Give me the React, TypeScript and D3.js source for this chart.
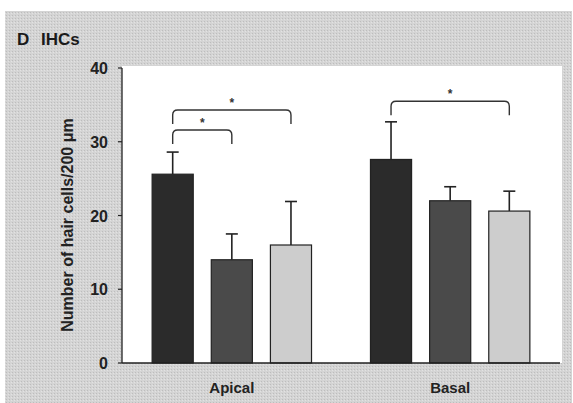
import React from "react";
import * as d3 from "d3";

const groups = ["Apical", "Basal"];
const series = ["s1", "s2", "s3"];
const means = [
  [25.6, 14.0, 16.0],
  [27.6, 22.0, 20.6],
];
const errs = [
  [3.0, 3.5, 5.9],
  [5.1, 1.9, 2.7],
];
const yTicks = [0, 10, 20, 30, 40];
const fills = ["#2b2b2b", "#4a4a4a", "#cdcdcd"];
// brackets: group, from series, to series, level (data units)
const brackets = [
  { g: 0, a: 0, b: 2, y: 34.3 },
  { g: 0, a: 0, b: 1, y: 31.6 },
  { g: 1, a: 0, b: 2, y: 35.5 },
];

export default function App() {
  const W = 573, H = 403;
  const left = 122, right = 560, top = 68, bottom = 363;
  const y = d3.scaleLinear().domain([0, 40]).range([bottom, top]);
  const x0 = d3.scaleBand().domain(groups).range([left, right]).paddingInner(0.27).paddingOuter(0.138);
  const x1 = d3.scaleBand().domain(series).range([0, x0.bandwidth()]).paddingInner(0.305);
  const font = "'Liberation Sans', Arial, sans-serif";
  const bw = x1.bandwidth();
  const cx = (g: number, s: number) => (x0(groups[g]) as number) + (x1(series[s]) as number) + bw / 2;
  const r = 5;
  return (
    <svg width={W} height={H} style={{ position: "absolute", left: 0, top: 0 }}>
      <defs>
        <pattern id="noise" width="3" height="3" patternUnits="userSpaceOnUse">
          <rect width="3" height="3" fill="#d4d4d4" />
          <rect width="1" height="1" fill="#bdbdbd" />
          <rect x="2" y="1" width="1" height="1" fill="#e2e2e2" />
        </pattern>
      </defs>
      <rect x={0} y={0} width={W} height={H} fill="#ffffff" />
      <rect x={5} y={11} width={W - 6} height={H - 11} fill="url(#noise)" />
      <rect x={left} y={66} width={562 - left} height={bottom - 66} fill="#ffffff" />
      <text x={17} y={45} fontFamily={font} fontWeight="bold" fontSize={17} fill="#1a1a1a">D</text>
      <text x={41} y={45} fontFamily={font} fontWeight="bold" fontSize={17} fill="#1a1a1a">IHCs</text>
      {means.map((row, g) =>
        row.map((v, s) => {
          const bx = (x0(groups[g]) as number) + (x1(series[s]) as number);
          const c = cx(g, s);
          const et = y(v + errs[g][s]);
          return (
            <g key={`${g}-${s}`}>
              <line x1={c} x2={c} y1={y(v)} y2={et} stroke="#222" strokeWidth={1.6} />
              <line x1={c - 6} x2={c + 6} y1={et} y2={et} stroke="#222" strokeWidth={1.6} />
              <rect x={bx} y={y(v)} width={bw} height={bottom - y(v)} fill={fills[s]} stroke="#222" strokeWidth={1.2} />
            </g>
          );
        })
      )}
      {brackets.map((b, i) => {
        const xa = cx(b.g, b.a), xb = cx(b.g, b.b);
        const yt = y(b.y);
        const yd = yt + 14;
        const d = `M${xa},${yd} L${xa},${yt + r} Q${xa},${yt} ${xa + r},${yt} L${xb - r},${yt} Q${xb},${yt} ${xb},${yt + r} L${xb},${yd}`;
        return (
          <g key={i}>
            <path d={d} fill="none" stroke="#333" strokeWidth={1.4} />
            <text x={(xa + xb) / 2} y={yt - 3} textAnchor="middle" fontFamily={font} fontWeight="bold" fontSize={12} fill="#333">*</text>
          </g>
        );
      })}
      <line x1={left} x2={left} y1={top} y2={bottom} stroke="#222" strokeWidth={1.3} />
      <line x1={left} x2={right} y1={bottom} y2={bottom} stroke="#222" strokeWidth={1.5} />
      {yTicks.map((t) => (
        <g key={t}>
          <line x1={left - 4} x2={left} y1={y(t)} y2={y(t)} stroke="#222" strokeWidth={1.2} />
          <text x={108} y={y(t) + 6} textAnchor="end" fontFamily={font} fontWeight="bold" fontSize={16} fill="#222">{t}</text>
        </g>
      ))}
      <text
        transform={`translate(73, 225) rotate(-90)`}
        textAnchor="middle"
        fontFamily={font}
        fontWeight="bold"
        fontSize={16}
        fill="#222"
      >
        Number of hair cells/200 μm
      </text>
      {groups.map((g) => (
        <text key={g} x={(x0(g) as number) + x0.bandwidth() / 2} y={393} textAnchor="middle" fontFamily={font} fontWeight="bold" fontSize={15} fill="#222">{g}</text>
      ))}
    </svg>
  );
}
